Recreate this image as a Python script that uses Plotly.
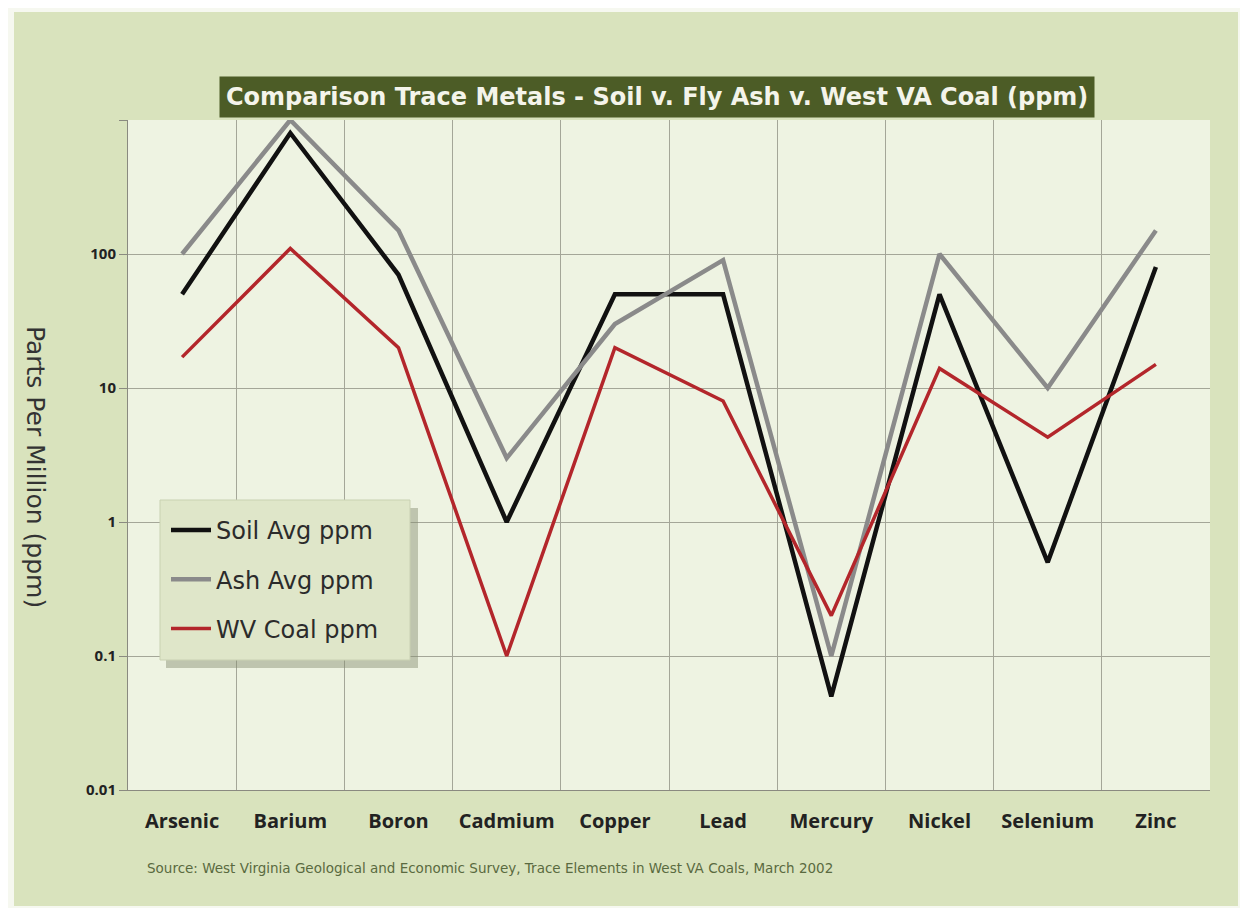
import plotly.graph_objects as go

metals = ["Arsenic", "Barium", "Boron", "Cadmium", "Copper", "Lead", "Mercury", "Nickel", "Selenium", "Zinc"]
soil_avg = [50, 800, 70, 1, 50, 50, 0.05, 50, 0.5, 80]
ash_avg = [100, 1000, 150, 3, 30, 90, 0.1, 100, 10, 150]
wv_coal = [17, 110, 20, 0.1, 20, 8, 0.2, 14, 4.3, 15]
y_ticks = [0.01, 0.1, 1, 10, 100, 1000]
y_ticktext = ["0.01", "0.1", "1", "10", "100", ""]

OFF = 8  # page body margin
W, H = 1232, 900
# plot area in reference (page) pixels
PL, PR, PT, PB = 128, 1210, 120, 790
L, T = PL - OFF, PT - OFF
R, B = W - (PR - OFF), H - (PB - OFF)
pw, ph = W - L - R, H - T - B

def px(x):
    return (x - OFF - L) / pw

def py(y):
    return (H - B - (y - OFF)) / ph

fig = go.Figure()
fig.add_trace(go.Scatter(x=metals, y=soil_avg, mode="lines", name="Soil Avg ppm",
                         line=dict(color="#111111", width=4.5), legendgroup="a"))
fig.add_trace(go.Scatter(x=metals, y=ash_avg, mode="lines", name="Ash Avg ppm",
                         line=dict(color="#8a8a8a", width=4.5), legendgroup="b"))
fig.add_trace(go.Scatter(x=metals, y=wv_coal, mode="lines", name="WV Coal ppm",
                         line=dict(color="#b3262b", width=3.5), legendgroup="c"))

# white border strips round the green panel
for (x0, x1, y0, y1) in [(0, 14, 0, 916), (1238, 1248, 0, 916), (0, 1248, 0, 12), (0, 1248, 906, 916)]:
    fig.add_shape(type="rect", xref="paper", yref="paper", layer="below",
                  x0=px(x0), x1=px(x1), y0=py(y1), y1=py(y0),
                  fillcolor="#f6f8f0", line=dict(width=0))
# legend shadow and box
fig.add_shape(type="rect", xref="paper", yref="paper", layer="above",
              x0=px(166), x1=px(418), y0=py(668), y1=py(508),
              fillcolor="rgba(130,140,110,0.45)", line=dict(width=0))
fig.add_shape(type="rect", xref="paper", yref="paper", layer="above",
              x0=px(160), x1=px(410), y0=py(660), y1=py(500),
              fillcolor="#dfe6c9", line=dict(width=1, color="#c9d1b2"))

fig.update_layout(
    width=W, height=H,
    margin=dict(l=L, r=R, t=T, b=B),
    paper_bgcolor="#d9e3bd",
    plot_bgcolor="#eef3e2",
    font=dict(family="DejaVu Sans, sans-serif", color="#2a2a2a"),
    showlegend=True,
    legend=dict(x=px(166), y=py(508), xanchor="left", yanchor="top",
                bgcolor="rgba(0,0,0,0)", borderwidth=0,
                font=dict(size=24, color="#2b2b2b", family="DejaVu Sans, sans-serif"),
                tracegroupgap=15, itemwidth=40),
    xaxis=dict(type="category", tickson="boundaries", range=[-0.5, 9.5],
               showgrid=True, gridcolor="#a4a698", gridwidth=1.3,
               ticks="", showline=True, linecolor="#8a8a80",
               tickfont=dict(size=20, color="#222222", family="Open Sans, sans-serif", weight="bold"),
               ticklabelstandoff=13),
    yaxis=dict(type="log", range=[-2, 3], tickvals=y_ticks, ticktext=y_ticktext,
               showgrid=True, gridcolor="#a4a698", gridwidth=1.3,
               ticks="outside", ticklen=8, tickcolor="#8a8a80",
               showline=True, linecolor="#8a8a80", zeroline=False,
               tickfont=dict(size=15, color="#222222", family="Open Sans, sans-serif", weight="bold")),
)

# title box
fig.add_annotation(xref="paper", yref="paper", x=px(657), y=py(97), xanchor="center", yanchor="middle",
                   text="<b>Comparison Trace Metals - Soil v. Fly Ash v. West VA Coal (ppm)</b>",
                   showarrow=False, bgcolor="#4c5c26", borderpad=6,
                   font=dict(size=24, color="#f4f4ea", family="DejaVu Sans, sans-serif"))
# y axis title
fig.add_annotation(xref="paper", yref="paper", x=px(36), y=py(467), xanchor="center", yanchor="middle",
                   text="Parts Per Million (ppm)", textangle=90, showarrow=False,
                   font=dict(size=25, color="#333333", family="DejaVu Sans, sans-serif"))
# source note
fig.add_annotation(xref="paper", yref="paper", x=px(145), y=py(868), xanchor="left", yanchor="middle",
                   text="Source: West Virginia Geological and Economic Survey, Trace Elements in West VA Coals, March 2002",
                   showarrow=False,
                   font=dict(size=13.5, color="#5a6a40", family="DejaVu Sans, sans-serif"))

fig.write_html("out.html")
